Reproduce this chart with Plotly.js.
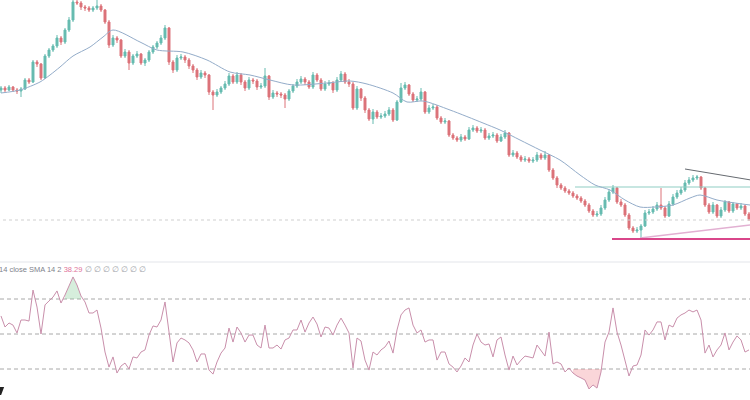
<!DOCTYPE html>
<html>
<head>
<meta charset="utf-8">
<script src="https://cdn.plot.ly/plotly-3.0.1.min.js"></script>
<style>html,body{margin:0;padding:0;background:#fff;}#chart{width:750px;height:400px;}</style>
</head>
<body>
<div id="chart"></div>
<script>
// ---- price data (arbitrary price units) ----
const opens = [170,172,170,173,170,169,171,180,178,198,196,182,204,210,214,222,218,230,240,258,
257,253,252,250,252,254,250,238,215,222,220,204,208,197,204,206,197,200,208,213,
217,222,232,198,190,202,203,200,194,190,183,187,185,168,165,168,172,176,184,178,
185,178,172,180,179,173,174,184,163,167,166,165,161,169,174,178,181,178,173,185,
180,171,176,177,170,180,186,178,176,152,171,162,150,141,148,143,144,146,150,140,
158,172,175,166,160,161,168,148,152,153,142,138,139,125,122,120,123,121,130,132,
129,130,122,124,125,119,123,127,105,107,103,100,101,99,100,105,102,105,90,82,
75,72,69,67,64,62,59,55,49,45,46,52,60,68,72,58,55,45,32,29,
30,34,47,48,51,55,52,44,56,63,67,70,77,80,82,83,72,55,48,55,
44,50,58,49,56,52,54,46];
const closes = [172,170,173,170,169,171,180,178,198,196,182,204,210,214,222,218,230,240,258,257,
253,252,250,252,254,250,238,215,222,220,204,208,197,204,206,197,200,208,213,217,
222,232,198,190,202,203,200,194,190,183,187,185,168,165,168,172,176,184,178,185,
178,172,180,179,173,174,184,163,167,166,165,161,169,174,178,181,178,173,185,180,
171,176,177,170,180,186,178,176,152,171,162,150,141,148,143,144,146,150,140,158,
172,175,166,160,161,168,148,152,153,142,138,139,125,122,120,123,121,130,132,129,
130,122,124,125,119,123,127,105,107,103,100,101,99,100,105,102,105,90,82,75,
72,69,67,64,62,59,55,49,45,46,52,60,68,72,58,55,45,32,29,30,
34,47,48,51,55,52,44,56,63,67,70,77,80,82,83,72,55,48,55,44,
50,58,49,56,52,54,46,41];
const highs = [174,174,175,174,172,173,182,182,200,200,197,206,212,216,225,224,232,243,260,260,
259,255,254,254,260,256,251,240,225,224,221,211,210,206,209,207,202,210,215,219,
225,235,233,200,205,206,205,202,196,192,190,189,186,170,171,174,179,187,186,188,
187,180,183,182,181,177,192,185,170,169,168,167,171,176,181,184,183,180,188,187,
182,179,180,179,183,189,188,181,178,174,172,164,152,151,150,147,149,153,152,160,
177,178,176,168,164,172,169,155,156,155,144,142,140,127,124,126,125,133,135,134,
133,132,127,128,127,126,130,128,110,109,105,104,103,103,108,107,109,106,92,84,
77,74,71,69,66,64,61,57,51,49,55,63,71,75,73,61,57,47,34,33,
36,50,51,54,58,72,54,59,66,70,73,80,83,85,85,84,73,57,58,56,
53,60,59,58,57,57,55,48];
const lows = [167,168,169,168,166,163,170,176,177,193,180,181,202,208,212,215,216,228,238,255,
250,249,248,248,250,248,236,212,213,217,202,202,190,195,202,195,194,198,206,211,
215,220,195,187,188,200,197,191,187,180,181,182,165,150,163,166,170,174,176,176,
175,169,170,176,170,171,172,160,161,163,162,152,159,167,172,176,175,171,171,178,
169,169,174,167,168,178,176,173,150,150,159,147,139,136,141,141,142,144,138,139,
157,170,164,158,158,159,146,146,150,140,136,136,123,120,118,118,119,120,128,127,
127,120,120,122,117,118,121,103,103,101,98,98,97,97,98,100,100,88,80,72,
70,67,65,62,60,57,53,47,43,43,44,50,58,66,56,53,43,30,27,27,
22,33,45,46,49,50,42,43,54,61,65,68,75,78,80,70,53,46,46,42,
42,48,47,47,50,50,44,39];

// ---- moving average ----
const maX = [0,4.75,9.75,12.25,14.75,18,22.25,25.5,28,34.75,39,45.5,51.5,57.25,62.25,67.25,73,81.5,87.25,91.5,98,101.5,105.5,112.25,120.5,124.75,129.75,134.75,139.75,144.75,148.5,152.25,156,159.75,163.5,168,172.25,174.75,179,183.5,187.25];
const maY = [167,170,178,185,193,204,213,223,230,218,210,208,200,188,185,180,175,177,179,176,167,158,159,150,137,130,120,110,100,85,75,70,60,53,53,55,62,65,60,57,55];

// ---- RSI (14) ----
const rsi = [60.3,54.0,56.3,55.1,50.6,58.0,58.0,57.4,75.1,65.4,50.0,66.6,68.9,71.1,74.6,67.7,72.3,78.0,82.6,78.0,
71.7,68.3,62.0,62.0,63.7,53.4,39.7,31.1,36.9,27.7,31.7,33.4,30.0,36.9,36.3,39.7,40.9,49.4,54.6,54.0,
58.0,68.3,49.4,34.0,44.9,47.7,46.6,44.9,40.9,34.0,38.6,38.6,29.4,27.1,34.0,39.1,42.0,53.4,45.4,54.0,
50.6,45.4,49.4,49.4,43.7,42.0,55.1,42.0,42.0,43.7,41.4,46.6,47.7,52.3,52.3,58.0,51.1,56.3,59.7,55.7,
48.3,54.0,53.4,49.4,55.1,59.1,55.1,50.6,30.6,47.7,46.0,35.1,29.4,39.7,38.0,40.9,42.6,46.0,39.1,52.3,
60.9,63.7,64.9,55.1,50.6,52.3,45.4,46.6,46.6,35.1,39.7,39.7,32.9,31.1,28.3,31.7,36.3,34.0,43.7,50.0,
45.4,43.7,44.3,36.9,46.6,48.3,38.0,29.4,37.4,32.3,35.1,37.4,36.9,36.3,43.7,40.3,37.4,51.1,32.9,34.0,
32.9,28.3,30.6,27.7,26.0,24.9,23.7,18.6,20.9,19.1,28.3,45.4,51.1,64.9,51.1,43.7,34.0,26.0,31.7,32.3,
38.0,52.3,49.4,52.3,56.9,56.9,46.6,55.1,54.0,59.1,60.9,62.0,63.7,62.6,63.7,58.0,39.1,43.7,36.9,40.9,
43.7,50.6,40.9,45.4,48.9,46.6,39.7,40.9];
const rsiLevels = [70, 50, 30];
const rsiLegendText = "14 close SMA 14 2";
const rsiValueText = "38.29";
const naText = "∅ ∅ ∅ ∅ ∅ ∅ ∅";

// ---- drawn levels / trendlines ----
const dottedLevel = 40;
const tealLevelX = [143.5, 187.5], tealLevelY = [73, 73];
const magentaLevelX = [152.75, 187.5], magentaLevelY = [21, 21];
const supportX = [159.75, 187.5], supportY = [22, 35];
const resistX = [171, 187.5], resistY = [91, 80];

const idx = closes.map((_, i) => i);

const upCol = '#66bbb0', dnCol = '#dc7279';
const traces = [];

traces.push({
  type: 'scatter', mode: 'lines', x: [idx[0]-1, idx[idx.length-1]+1], y: [dottedLevel, dottedLevel],
  line: {color: '#cfcfcf', width: 1, dash: 'dot'}, hoverinfo: 'skip', xaxis: 'x', yaxis: 'y'
});
traces.push({
  type: 'scatter', mode: 'lines', x: tealLevelX, y: tealLevelY,
  line: {color: '#8fcdc3', width: 1.2}, hoverinfo: 'skip', xaxis: 'x', yaxis: 'y'
});
traces.push({
  type: 'scatter', mode: 'lines', x: supportX, y: supportY,
  line: {color: '#e2b0d2', width: 1.5}, hoverinfo: 'skip', xaxis: 'x', yaxis: 'y'
});
traces.push({
  type: 'scatter', mode: 'lines', x: magentaLevelX, y: magentaLevelY,
  line: {color: '#d9468a', width: 2}, hoverinfo: 'skip', xaxis: 'x', yaxis: 'y'
});
traces.push({
  type: 'scatter', mode: 'lines', x: resistX, y: resistY,
  line: {color: '#666a70', width: 1}, hoverinfo: 'skip', xaxis: 'x', yaxis: 'y'
});
traces.push({
  type: 'scatter', mode: 'lines', x: maX, y: maY, line: {color: '#93acc9', width: 1, shape: 'spline', smoothing: 0.8},
  hoverinfo: 'skip', xaxis: 'x', yaxis: 'y'
});
traces.push({
  type: 'candlestick', x: idx, open: opens, high: highs, low: lows, close: closes,
  increasing: {line: {color: upCol, width: 1}, fillcolor: upCol},
  decreasing: {line: {color: dnCol, width: 1}, fillcolor: dnCol},
  whiskerwidth: 0, xaxis: 'x', yaxis: 'y', hoverinfo: 'skip'
});

// RSI overbought / oversold fills
function fillPair(a, b, level, color) {
  const xs = idx.slice(a, b + 1);
  traces.push({type: 'scatter', mode: 'lines', x: xs, y: xs.map(() => level), line: {width: 0, color: 'rgba(0,0,0,0)'},
    hoverinfo: 'skip', xaxis: 'x', yaxis: 'y2'});
  traces.push({type: 'scatter', mode: 'lines', x: xs, y: rsi.slice(a, b + 1), fill: 'tonexty', fillcolor: color,
    line: {width: 0, color: 'rgba(0,0,0,0)'}, hoverinfo: 'skip', xaxis: 'x', yaxis: 'y2'});
}
fillPair(16, 20, rsiLevels[0], 'rgba(120,200,140,0.3)');
fillPair(143, 150, rsiLevels[2], 'rgba(240,120,130,0.3)');

traces.push({
  type: 'scatter', mode: 'lines', x: idx, y: rsi, line: {color: '#c98fab', width: 1},
  hoverinfo: 'skip', xaxis: 'x', yaxis: 'y2'
});

const shapes = rsiLevels.map(v => ({
  type: 'line', xref: 'paper', x0: 0, x1: 1, yref: 'y2', y0: v, y1: v,
  line: {color: '#a8a8a8', width: 1, dash: '4px,3px'}, layer: 'below'
}));
shapes.push({type: 'line', xref: 'paper', x0: 0, x1: 1, yref: 'paper', y0: 0.345, y1: 0.345,
  line: {color: '#e3e5ea', width: 1}});
shapes.push({type: 'path', xref: 'paper', yref: 'paper',
  path: 'M 0 0.0325 L 0.0055 0.0325 L 0.0015 0.0125 L 0 0.0125 Z', fillcolor: '#222', line: {width: 0}});

const legendHtml = '<span style="color:#80838c">' + rsiLegendText + '</span> ' +
  '<span style="color:#e0739a">' + rsiValueText + '</span> ' +
  '<span style="color:#a0a2a8">' + naText + '</span>';

const layout = {
  width: 750, height: 400, margin: {l: 0, r: 0, t: 0, b: 0, pad: 0},
  paper_bgcolor: '#ffffff', plot_bgcolor: '#ffffff', showlegend: false,
  xaxis: {range: [-0.25, 187.25], visible: false, showgrid: false, zeroline: false, rangeslider: {visible: false}, fixedrange: true},
  yaxis: {domain: [0.35, 1], range: [0, 260], visible: false, showgrid: false, zeroline: false},
  yaxis2: {domain: [0, 0.3375], range: [12.29, 89.43], visible: false, showgrid: false, zeroline: false},
  shapes: shapes,
  annotations: [
    {xref: 'paper', yref: 'paper', x: -0.003, y: 0.327, xanchor: 'left', yanchor: 'middle', showarrow: false,
      borderpad: 0, text: legendHtml, font: {family: 'Liberation Sans, Arial, sans-serif', size: 7.5, color: '#80838c'}}
  ]
};

Plotly.newPlot('chart', traces, layout, {staticPlot: true, displayModeBar: false});
</script>
</body>
</html>
